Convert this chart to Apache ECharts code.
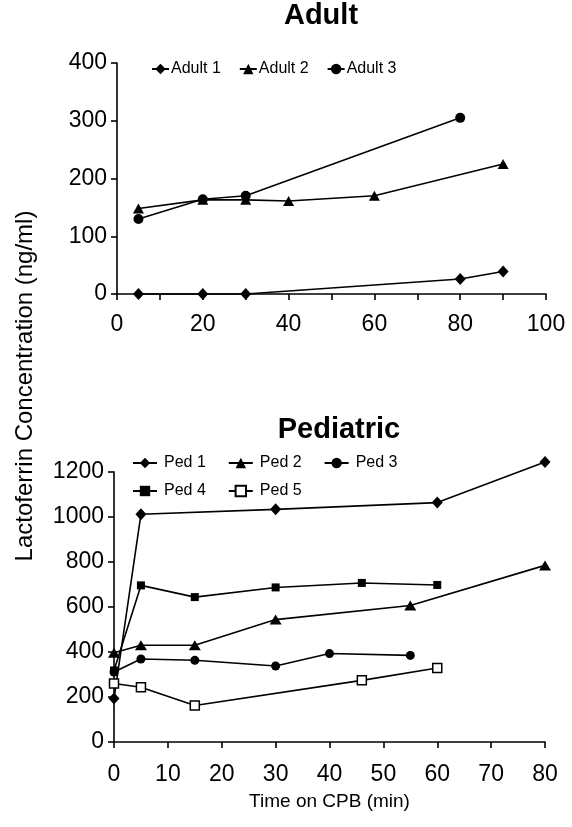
<!DOCTYPE html>
<html>
<head>
<meta charset="utf-8">
<script src="https://cdn.jsdelivr.net/npm/echarts@6/dist/echarts.min.js"></script>
<style>
html,body{margin:0;padding:0;background:#fff;}
#chart{width:572px;height:827px;}
</style>
</head>
<body>
<div id="chart"></div>
<script>
// ---- Data (time in min, lactoferrin ng/ml) ----
const adultNames = ['Adult 1', 'Adult 2', 'Adult 3'];
const adult1 = [[5, 0], [20, 0], [30, 0], [80, 26], [90, 39]];
const adult2 = [[5, 148], [20, 163], [30, 163], [40, 161], [60, 170], [90, 225]];
const adult3 = [[5, 130], [20, 164], [30, 170], [80, 305]];

const pedNames = ['Ped 1', 'Ped 2', 'Ped 3', 'Ped 4', 'Ped 5'];
const ped1 = [[0, 193], [5, 1012], [30, 1034], [60, 1064], [80, 1244]];
const ped2 = [[0, 397], [5, 430], [15, 430], [30, 544], [55, 607], [80, 785]];
const ped3 = [[0, 311], [5, 369], [15, 363], [30, 338], [40, 393], [55, 385]];
const ped4 = [[0, 318], [5, 696], [15, 644], [30, 687], [46, 707], [60, 698]];
const ped5 = [[0, 260], [5, 243], [15, 162], [46, 274], [60, 329]];

const adultXTicks = [0, 20, 40, 60, 80, 100];
const adultYTicks = [0, 100, 200, 300, 400];
const pedXTicks = [0, 10, 20, 30, 40, 50, 60, 70, 80];
const pedYTicks = [0, 200, 400, 600, 800, 1000, 1200];

const titles = ['Adult', 'Pediatric'];
const xAxisName = 'Time on CPB (min)';
const yAxisName = 'Lactoferrin Concentration (ng/ml)';

// ---- Styling ----
const FONT = '"Liberation Sans", Arial, Helvetica, sans-serif';
const BLACK = '#000';

function mkSeries(name, data, symbol, size, idx, filled) {
  return {
    name: name,
    type: 'line',
    xAxisIndex: idx,
    yAxisIndex: idx,
    data: data,
    symbol: symbol,
    symbolSize: size,
    showAllSymbol: true,
    clip: false,
    lineStyle: { color: BLACK, width: 1.6 },
    itemStyle: filled === false
      ? { color: '#fff', borderColor: BLACK, borderWidth: 1.5 }
      : { color: BLACK, borderColor: BLACK, borderWidth: 0 },
    emphasis: { disabled: true },
    animation: false,
    z: 3
  };
}

function mkXAxis(idx, max, interval, ticks, margin, showName) {
  return {
    type: 'value',
    gridIndex: idx,
    min: 0, max: max, interval: interval,
    axisLine: { show: true, onZero: false, lineStyle: { color: BLACK, width: 1.6 } },
    axisTick: { show: true, inside: false, length: 6, lineStyle: { color: BLACK, width: 1.6 } },
    axisLabel: {
      color: BLACK, fontSize: 23, fontFamily: FONT, margin: margin,
      formatter: function (v) { return ticks.indexOf(v) >= 0 ? String(v) : ''; }
    },
    splitLine: { show: false },
    name: showName ? xAxisName : '',
    nameLocation: 'middle',
    nameGap: 50,
    nameTextStyle: { color: BLACK, fontSize: 19, fontFamily: FONT }
  };
}

function mkYAxis(idx, max, interval, ticks) {
  return {
    type: 'value',
    gridIndex: idx,
    min: 0, max: max, interval: interval,
    axisLine: { show: true, onZero: false, lineStyle: { color: BLACK, width: 1.6 } },
    axisTick: { show: true, inside: false, length: 6, lineStyle: { color: BLACK, width: 1.6 } },
    axisLabel: {
      color: BLACK, fontSize: 23, fontFamily: FONT, margin: 10,
      formatter: function (v) { return ticks.indexOf(v) >= 0 ? String(v) : ''; }
    },
    splitLine: { show: false }
  };
}

const legendTextTop = { color: BLACK, fontSize: 16, fontFamily: FONT, padding: [0, 0, 0, -3] };
const legendTextPed = { color: BLACK, fontSize: 16, fontFamily: FONT, padding: [0, 0, 0, 2] };

const option = {
  backgroundColor: '#fff',
  animation: false,
  textStyle: { fontFamily: FONT },
  grid: [
    { left: 117, right: 26, top: 63, height: 231 },
    { left: 114, right: 27, top: 472, height: 270 }
  ],
  xAxis: [
    mkXAxis(0, 100, 10, adultXTicks, 19, false),
    mkXAxis(1, 80, 10, pedXTicks, 21, true)
  ],
  yAxis: [
    mkYAxis(0, 400, 100, adultYTicks),
    mkYAxis(1, 1200, 200, pedYTicks)
  ],
  legend: [
    {
      data: adultNames, left: 146, top: 56, itemWidth: 17, itemHeight: 13,
      itemGap: 18, textStyle: legendTextTop, selectedMode: false
    },
    {
      data: pedNames.slice(0, 3), left: 127, top: 450, itemWidth: 24, itemHeight: 13,
      itemGap: 22, textStyle: legendTextPed, selectedMode: false
    },
    {
      data: pedNames.slice(3), left: 127, top: 478, itemWidth: 24, itemHeight: 13,
      itemGap: 22, textStyle: legendTextPed, selectedMode: false
    }
  ],
  graphic: [
    {
      type: 'text', silent: true,
      x: 321, y: 16,
      style: { text: titles[0], font: 'bold 29px ' + FONT, fill: BLACK, textAlign: 'center', textVerticalAlign: 'middle' }
    },
    {
      type: 'text', silent: true,
      x: 339, y: 430,
      style: { text: titles[1], font: 'bold 29px ' + FONT, fill: BLACK, textAlign: 'center', textVerticalAlign: 'middle' }
    },
    {
      type: 'text', silent: true,
      x: 25, y: 386, rotation: Math.PI / 2,
      style: { text: yAxisName, font: '24px ' + FONT, fill: BLACK, textAlign: 'center', textVerticalAlign: 'middle' }
    }
  ],
  series: [
    mkSeries(adultNames[0], adult1, 'diamond', [11, 12], 0),
    mkSeries(adultNames[1], adult2, 'triangle', [11, 10], 0),
    mkSeries(adultNames[2], adult3, 'circle', 10, 0),
    mkSeries(pedNames[0], ped1, 'diamond', [11, 12], 1),
    mkSeries(pedNames[1], ped2, 'triangle', [12, 10], 1),
    mkSeries(pedNames[2], ped3, 'circle', 9, 1),
    mkSeries(pedNames[3], ped4, 'rect', 8, 1),
    mkSeries(pedNames[4], ped5, 'rect', 9, 1, false)
  ]
};

const chart = echarts.init(document.getElementById('chart'), null, { renderer: 'canvas' });
chart.setOption(option);
</script>
</body>
</html>
